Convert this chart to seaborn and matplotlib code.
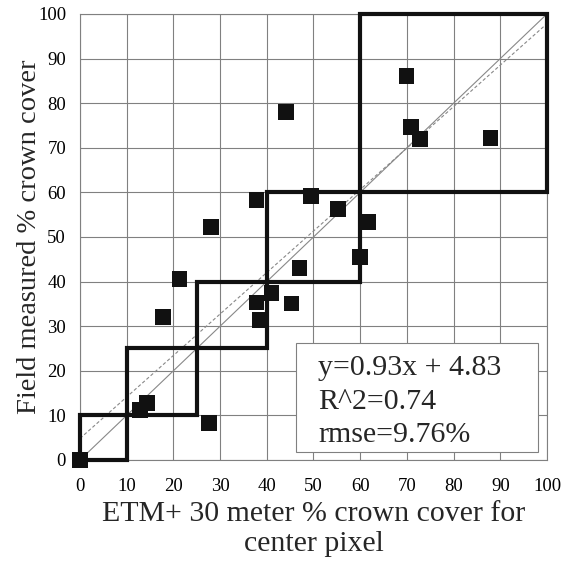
import matplotlib
matplotlib.use("Agg")
import matplotlib.pyplot as plt
from matplotlib.patches import Rectangle
import seaborn as sns
import pandas as pd
import numpy as np

# ETM+ predicted vs field measured crown cover (%)
etm_cover = [0, 12.8, 14.3, 27.7, 17.8, 21.3, 28.0, 37.8, 44.1, 49.4, 55.3,
             61.7, 37.8, 41.0, 38.5, 45.3, 47.0, 60.0, 69.9, 70.8, 72.8, 87.9]
field_cover = [0, 11.2, 12.8, 8.2, 32.1, 40.5, 52.3, 58.3, 78.1, 59.2, 56.2,
               53.4, 35.3, 37.4, 31.4, 35.1, 43.1, 45.6, 86.1, 74.6, 72.0, 72.2]

# class boxes (lower, upper)
class_bounds = [(0, 10), (10, 25), (25, 40), (40, 60), (60, 100)]

slope = 0.93
intercept = 4.83
stats_lines = ["y=0.93x + 4.83", "R^2=0.74", "rmse=9.76%"]

df = pd.DataFrame({"etm": etm_cover, "field": field_cover})

sns.set_style("white")
plt.rcParams['font.family'] = ['Liberation Serif', 'DejaVu Serif']

fig = plt.figure(figsize=(5.69, 5.66), dpi=100)
ax = fig.add_axes([0.1406, 0.1873, 0.8207, 0.788])

ax.set_xlim(0, 100)
ax.set_ylim(0, 100)
ticks = np.arange(0, 101, 10)
ax.set_xticks(ticks)
ax.set_yticks(ticks)
ax.grid(True, color='#808080', linewidth=0.8)
ax.set_axisbelow(True)
for s in ax.spines.values():
    s.set_color('#808080')
    s.set_linewidth(0.8)
ax.tick_params(length=0, labelsize=13.5, colors='black')
ax.tick_params(axis='x', pad=13)
ax.tick_params(axis='y', pad=10)

# 1:1 line and regression line
ax.plot([0, 100], [0, 100], color='#888888', linewidth=0.8)
xs = np.array([0, 100])
ax.plot(xs, slope * xs + intercept, color='#888888', linewidth=0.8, linestyle=(0, (3, 2)))

for lo, hi in class_bounds:
    ax.plot([lo, hi, hi, lo, lo], [lo, lo, hi, hi, lo], color='#111111',
            linewidth=3, solid_joinstyle='miter', clip_on=False, zorder=3)

sns.scatterplot(data=df, x="etm", y="field", marker='s', s=130, color='#111111',
                edgecolor='none', ax=ax, zorder=4, clip_on=False)

# statistics box
ax.add_patch(Rectangle((46.3, 1.7), 51.7, 24.6, facecolor='white',
                       edgecolor='#808080', linewidth=0.8, zorder=5))
for i, line in enumerate(stats_lines):
    ax.text(51.0, 20.6 - 7.5 * i, line, fontsize=21.5, va='center', ha='left', zorder=6)

ax.set_xlabel("ETM+ 30 meter % crown cover for\ncenter pixel", fontsize=21.5,
              labelpad=4, linespacing=1.2)
ax.set_ylabel("Field measured % crown cover", fontsize=20.5, labelpad=-3)

fig.savefig("out.png", dpi=100)
